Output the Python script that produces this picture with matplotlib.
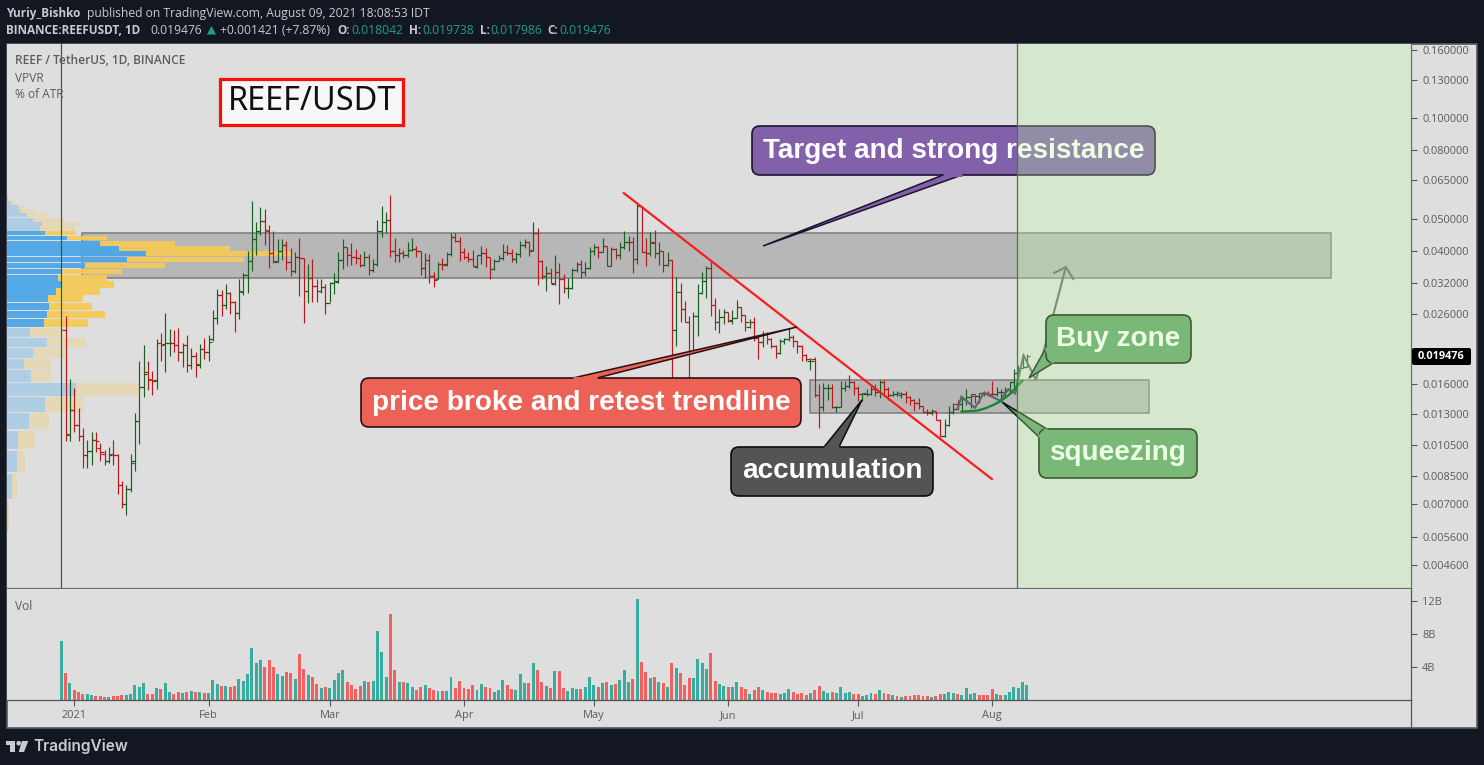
import numpy as np
import matplotlib
matplotlib.use("Agg")
import matplotlib.pyplot as plt
from matplotlib.collections import LineCollection
from matplotlib.patches import FancyBboxPatch, Polygon, Rectangle, Circle
from matplotlib.transforms import Affine2D, IdentityTransform, blended_transform_factory

# ---------- data (prices in thousandths of USDT, one row = ten days) ----------
first_day = -2
highs = [
 25.5,16.6,15.6,13.6,11.8,10.9,11.5,11.5,10.7,10.2,
 10.4,10.9,9.9,8.2,8.0,9.9,13.1,18.7,20.9,18.7,
 17.5,21.8,22.8,26.1,23.4,23.2,23.6,21.3,22.4,20.5,
 19.9,21.1,22.0,22.4,26.7,30.9,30.5,31.9,30.1,28.4,
 33.0,34.3,40.0,56.4,48.9,54.0,53.3,47.9,45.9,43.3,
 43.5,42.9,40.7,39.6,43.8,38.0,36.5,37.9,32.9,32.9,
 31.8,32.3,34.4,39.8,43.5,41.0,42.2,40.5,39.1,40.0,
 39.2,37.8,49.5,54.7,52.3,58.8,43.8,40.7,40.4,42.6,
 43.8,41.4,39.9,39.4,39.2,34.6,37.0,38.0,39.8,45.4,
 45.4,44.0,40.7,39.6,40.4,38.9,41.4,40.7,38.5,37.8,
 39.0,42.0,41.7,40.5,39.8,42.9,43.4,43.0,48.8,46.9,
 37.6,36.1,35.5,38.9,36.8,34.2,33.2,35.7,37.1,37.6,
 37.2,41.1,41.9,41.4,43.7,41.3,41.1,40.8,42.7,45.8,
 44.5,44.0,55.5,54.5,43.7,45.6,46.3,42.5,39.9,39.6,
 37.5,33.5,32.0,28.3,25.6,26.3,31.9,34.7,36.0,37.2,
 28.9,26.9,26.8,26.3,26.6,28.6,27.3,25.8,25.0,25.4,
 22.4,23.0,22.9,22.0,21.0,21.8,22.0,23.5,22.4,21.6,
 21.0,19.7,19.2,19.3,16.0,16.1,16.0,16.0,13.8,16.3,
 16.4,17.0,16.4,15.8,15.1,15.5,16.0,16.0,16.5,16.5,
 15.7,15.3,15.3,15.2,15.3,14.7,14.4,14.5,13.8,13.5,
 13.5,13.3,12.6,12.6,13.8,14.1,14.3,14.6,15.5,15.0,
 15.0,15.1,15.3,15.3,16.4,15.7,15.5,15.7,16.2,17.7,
 18.2,19.8,19.738]
lows = [
 10.84,10.8,11.5,10.8,9.0,9.0,9.2,10.0,9.4,9.2,
 9.3,9.2,7.5,6.8,6.5,7.6,8.8,10.6,14.6,15.4,
 14.8,15.5,18.7,17.4,19.4,19.9,18.7,18.0,17.4,17.7,
 16.8,17.9,19.0,18.7,21.5,24.2,25.5,26.8,25.9,22.9,
 25.1,29.6,30.0,34.9,39.0,44.6,41.7,35.7,36.8,37.0,
 37.6,35.2,33.6,34.5,29.3,24.4,27.9,28.1,28.1,29.9,
 25.9,28.1,29.7,32.1,35.3,36.1,36.3,36.7,35.9,36.1,
 33.8,34.6,36.1,44.1,45.3,38.4,37.2,37.2,38.0,38.3,
 40.1,38.3,33.8,33.2,32.0,31.2,32.9,35.0,36.1,38.6,
 42.7,37.3,37.9,37.2,36.1,35.6,36.7,35.9,33.0,35.2,
 37.3,37.6,39.0,37.0,36.9,38.3,40.7,38.7,39.9,31.6,
 33.0,30.4,32.2,31.7,27.7,29.9,28.9,30.8,34.6,33.2,
 33.6,35.3,38.9,38.2,39.6,36.0,36.1,37.9,37.9,40.5,
 40.1,34.4,36.7,39.6,36.1,38.7,38.0,36.4,34.7,36.0,
 16.4,20.8,24.5,24.5,16.8,19.8,22.3,29.7,28.9,25.5,
 23.2,22.7,24.2,24.6,24.2,25.2,24.5,23.1,23.6,21.6,
 19.0,20.6,21.1,20.5,19.1,19.7,21.1,21.6,20.7,19.8,
 18.7,18.7,17.6,14.6,11.8,13.3,14.3,13.6,13.2,13.7,
 15.3,15.6,14.8,14.2,14.2,14.7,14.8,14.7,14.5,15.0,
 14.3,14.7,14.7,14.5,14.1,13.9,13.3,13.5,13.1,12.9,
 12.9,12.5,11.1,11.1,12.0,13.0,13.4,13.3,13.9,13.6,
 14.1,14.1,14.7,14.7,14.8,14.7,14.5,14.7,15.0,15.7,
 17.1,17.9,17.986]
opens = [
 23.3,11.3,13.4,12.1,11.2,9.8,10.1,10.9,10.3,9.9,
 9.4,9.9,9.8,8.0,7.0,7.8,9.4,12.4,15.7,17.4,
 16.5,16.5,21.3,21.1,21.2,21.2,21.0,19.9,21.0,18.2,
 19.4,18.2,20.4,19.9,21.9,25.2,29.6,27.6,30.0,28.1,
 26.1,30.1,33.9,37.4,43.3,46.0,49.3,45.9,39.4,37.0,
 40.0,41.6,37.2,34.9,38.3,38.1,30.3,33.2,31.4,30.4,
 31.3,27.9,32.0,32.4,37.5,41.0,38.8,38.5,38.0,36.4,
 38.5,35.2,36.7,46.0,48.7,49.4,39.9,38.8,39.4,39.0,
 40.2,40.5,39.9,35.7,37.5,33.7,33.0,36.5,36.5,39.1,
 44.2,43.0,39.8,38.5,37.8,35.9,38.8,39.4,38.5,35.4,
 37.3,38.0,39.8,39.5,37.8,39.1,41.8,42.5,40.2,45.4,
 37.3,33.6,34.3,31.9,34.7,33.0,31.0,31.0,35.0,36.5,
 34.7,35.7,39.9,41.1,39.8,41.3,36.2,40.5,38.8,41.1,
 42.7,42.7,37.9,54.5,39.7,39.4,42.4,39.4,39.9,36.4,
 37.5,23.3,30.1,26.9,24.6,20.0,25.6,29.9,32.6,35.6,
 27.6,24.6,25.4,26.2,24.8,25.3,27.2,25.8,23.7,24.6,
 22.0,21.4,22.6,21.9,20.8,19.8,21.6,21.8,22.1,21.5,
 20.8,19.6,18.8,19.0,14.8,13.7,15.6,15.6,13.7,13.7,
 15.6,15.8,16.2,15.6,15.0,15.0,15.0,15.5,15.2,16.2,
 15.5,14.8,15.0,14.8,15.0,14.6,14.3,14.1,13.8,13.2,
 13.2,13.3,12.5,11.2,12.1,13.2,14.0,14.0,14.4,14.6,
 15.0,14.7,15.1,15.1,15.0,14.9,15.2,15.2,15.4,16.2,
 17.3,17.9,18.042]
closes = [
 11.34,13.4,12.1,11.2,9.8,10.1,10.9,10.8,10.0,9.4,
 9.8,9.8,8.0,7.0,7.8,9.3,12.4,15.7,17.2,16.6,
 16.4,21.3,21.0,21.2,21.2,21.0,19.9,21.0,18.2,19.4,
 18.4,20.4,19.9,21.4,25.2,29.6,27.6,30.0,28.1,26.1,
 30.3,33.9,37.4,43.3,46.0,49.3,46.3,39.4,37.4,40.0,
 41.6,37.2,34.9,38.3,38.1,30.3,33.2,31.4,30.4,31.3,
 27.9,32.0,32.6,37.5,41.0,38.8,38.5,38.0,36.4,38.5,
 35.2,36.7,46.0,48.7,49.4,39.9,38.8,39.4,39.0,40.2,
 40.5,39.9,35.7,37.5,33.7,32.8,36.5,36.4,39.1,44.2,
 43.0,39.8,38.5,37.8,36.0,38.8,39.4,38.5,35.4,37.3,
 38.0,39.8,39.5,37.8,39.1,41.8,42.5,39.9,45.4,37.3,
 33.6,34.3,32.1,34.7,33.0,31.0,31.0,35.0,36.5,34.7,
 35.7,39.9,41.1,39.8,41.3,36.2,40.5,38.9,41.1,42.7,
 42.7,37.9,54.5,39.7,39.4,42.7,39.4,39.9,36.4,37.5,
 23.3,30.1,26.9,24.6,20.0,25.6,29.9,32.6,35.6,27.6,
 24.6,25.4,26.2,24.7,25.2,27.2,25.8,24.5,24.6,22.0,
 21.4,22.6,21.9,20.8,19.8,21.6,21.8,22.1,21.5,20.8,
 19.6,19.0,18.8,14.8,13.7,15.6,15.6,13.7,13.7,15.6,
 15.8,16.2,15.6,15.0,15.1,15.0,15.5,15.2,16.2,15.5,
 14.8,15.0,15.1,15.0,14.6,14.3,14.1,13.8,13.2,13.15,
 13.3,12.5,11.2,12.1,13.2,13.5,13.95,14.4,14.6,14.7,
 14.7,15.1,15.1,15.0,14.9,15.2,15.2,15.4,16.2,17.3,
 17.9,18.055,19.476]

vol_first_day = -3
volumes = [
 7.13,3.32,2.09,1.23,.98,.74,.74,.61,.49,.49,
 .37,.37,.49,.49,.61,.61,.74,1.84,1.6,2.09,
 .74,.74,1.48,1.35,2.09,.98,.74,.98,.86,.98,
 1.1,.98,.98,.86,.86,2.46,1.97,1.72,1.72,1.6,
 1.72,2.58,2.34,3.2,6.27,4.43,4.8,4.06,4.8,4.06,
 3.2,2.95,3.44,3.32,2.58,5.53,3.81,3.07,2.83,1.97,
 1.48,1.6,1.48,2.46,3.32,3.69,2.21,1.84,1.35,1.72,
 2.34,2.21,2.34,8.36,5.78,2.83,10.45,3.69,2.21,2.21,
 2.09,1.6,1.23,1.6,1.84,1.48,1.23,1.1,1.1,1.1,
 2.83,1.48,2.34,1.48,1.35,1.84,1.23,1.97,1.6,1.48,
 .98,1.23,2.46,1.84,1.35,1.23,3.2,2.09,2.09,4.43,
 3.69,2.21,1.72,1.48,3.57,3.57,1.48,1.1,1.48,1.35,
 1.35,1.6,2.83,1.84,1.6,2.09,2.21,1.84,1.97,2.46,
 3.69,2.21,2.58,12.3,4.55,3.44,2.7,2.83,2.21,2.09,
 1.6,4.43,3.93,3.32,1.84,2.7,2.7,4.92,4.43,3.81,
 5.66,2.34,1.97,1.72,1.6,1.6,2.21,1.6,1.35,.74,
 1.23,1.6,1.23,.98,.86,.86,.74,.86,1.35,.98,
 .74,.86,.61,.86,1.23,1.72,1.1,.86,.98,.86,
 1.6,.86,.98,.74,.74,.49,.61,.86,.74,1.23,
 .86,.74,.61,.49,.37,.49,.49,.61,.61,.49,
 .49,.37,.49,.74,.74,.98,.86,.74,.61,1.48,
 .74,.86,.61,.61,.61,1.35,.74,.61,.61,.98,
 1.6,1.48,2.21,1.84]
volume_dirs = ("grgrrrggrr" "rgrrrggggg" "rrgrggrrgr" "grgrgggrgr"
               "rggggggrrr" "ggrrgrrgrr" "grggggrrrr" "grggggrrgr"
               "ggrrgrrgrg" "grrrrrggrr" "gggrrgggrg" "rrgrgrrggg"
               "rgggrgrgrg" "ggrgrrgrgr" "grgrrrgggg" "rrggrggrrg"
               "rrgrrrgggr" "rrrgrrggrg" "gggrrgggrg" "rrgrgrrrrr"
               "rgrrgggrgg" "ggrrrrgrgg" "gggg")

# visible-range volume profile, top row first (widths in profile units)
profile_up = [0.5,1,4,11,13,20,26,35,33,38,60,93,112,139,120,78,54,51,55,49,41,42,40,37,23,40,26,17,24,69,38,22,11,10,5,1]
profile_down = [0.5,1,4,6,15,21,31,39,34,31,40,75,111,146,117,80,61,49,52,44,35,43,58,44,33,39,32,27,20,63,39,20,17,8,5,1]
profile_top, profile_step = 59.3, 1.49
value_area = (9, 24)

month_days = [0, 31, 59, 90, 120, 151, 181, 212]
month_labels = ["2021", "Feb", "Mar", "Apr", "May", "Jun", "Jul", "Aug"]
price_ticks = [.16, .13, .10, .08, .065, .05, .04, .032, .026, .016, .013, .0105, .0085, .007, .0056, .0046]
volume_ticks = [4, 8, 12]
last_price = 0.019476

# ---------- layout ----------
W, H = 1484, 765
DARK, PANEL = "#131722", "#dedede"
UP, DOWN = "#1a5e20", "#b8191c"
VUP, VDOWN = "#38ac9f", "#f2615f"
TXT = "#5c5c5c"
SANS = "Open Sans"
PX_PER_DAY, X0 = 4.33, 74.3

fig = plt.figure(figsize=(W/100, H/100), dpi=100, facecolor=DARK)
px = Affine2D().scale(1, -1).translate(0, H)

def ax_rect(x0, y0, x1, y1):
    return [x0/W, 1-y1/H, (x1-x0)/W, (y1-y0)/H]

fig.add_artist(Rectangle((7, 44), 1470, 684, transform=px, facecolor=PANEL,
                         edgecolor="#555862", lw=1.2, zorder=-1))
ax = fig.add_axes(ax_rect(7, 44, 1411, 588), facecolor=PANEL)
vx = fig.add_axes(ax_rect(7, 589, 1411, 700), facecolor=PANEL)
xlim = ((7-X0)/PX_PER_DAY, (1411-X0)/PX_PER_DAY)

# ---------- price panel ----------
ax.set_yscale("log")
ax.set_xlim(xlim)
ax.set_ylim(3.934e-3, 166.26e-3)
ax.set_xticks([])
ax.yaxis.tick_right()
ax.set_yticks(price_ticks, [f"{t:.6f}" for t in price_ticks])
ax.minorticks_off()
ax.tick_params(axis="y", which="major", length=4, width=0.8, color="#555555", labelcolor=TXT,
               labelsize=7.9, pad=4)
for lab in ax.get_yticklabels():
    lab.set_family(SANS)
for s in ("top", "left"):
    ax.spines[s].set_visible(False)
for s in ("right", "bottom"):
    ax.spines[s].set_color("#6b6b6b")
    ax.spines[s].set_linewidth(0.9)

days = np.arange(first_day, first_day + len(highs))
o, h_, l, c = [np.array(a) / 1000 for a in (opens, highs, lows, closes)]
segs, cols = [], []
for d, oo, hh, ll, cc in zip(days, o, h_, l, c):
    col = UP if cc >= oo else DOWN
    segs += [[(d, ll), (d, hh)], [(d-0.8, oo), (d, oo)], [(d, cc), (d+0.8, cc)]]
    cols += [col]*3
ax.add_collection(LineCollection(segs, colors=cols, linewidths=0.85, zorder=3, capstyle="butt"))
ax.axvline(vol_first_day, color="#1c6a23", lw=0.85, zorder=3)

# zones
zone_kw = dict(facecolor="#5f5f62", alpha=0.3, zorder=2)
for x0, x1, y0, y1 in [(1.8, 290.2, 33.2e-3, 45.3e-3), (169.9, 248.2, 13.1e-3, 16.45e-3)]:
    ax.add_patch(Rectangle((x0, y0), x1-x0, y1-y0, **zone_kw))
    ax.add_patch(Rectangle((x0, y0), x1-x0, y1-y0, fill=False, edgecolor="#7c7c7c", lw=1.1, zorder=2))

# volume profile
prof_tr = blended_transform_factory(Affine2D().translate(7, 0), ax.transData)
for i, (u, dn) in enumerate(zip(profile_up, profile_down)):
    top = (profile_top - i*profile_step) / 1000
    bot = (profile_top - (i+1)*profile_step + 0.12) / 1000
    strong = value_area[0] <= i < value_area[1]
    cu, cd = ("#4ea6e8", "#f5ca58") if strong else ("#adcde4", "#e6d8b4")
    ax.add_patch(Rectangle((0, bot), u, top-bot, transform=prof_tr, facecolor=cu, lw=0, zorder=2.5, alpha=.95))
    ax.add_patch(Rectangle((u, bot), dn, top-bot, transform=prof_tr, facecolor=cd, lw=0, zorder=2.5, alpha=.95))

# trend line, sketch of expected path, squeeze curve
ax.plot([126.9, 211.9], [59.6e-3, 8.33e-3], color="#fb1c1c", lw=1.6, zorder=5)
path_days = [204.0, 204.9, 208.0, 210.1, 213.8, 215.7, 217.3, 219.2, 222.1, 229.0]
path_prices = [13.55, 14.67, 13.6, 15.08, 14.28, 15.44, 15.02, 19.55, 16.46, 35.8]
ax.plot(path_days, np.array(path_prices)/1000, color="#62636c", lw=1.5, zorder=5, solid_joinstyle="miter")
ax.plot([226.3, 229.0, 230.7], [34.4e-3, 35.8e-3, 33.0e-3], color="#62636c", lw=1.5, zorder=5)
curve_days = [204.9, 208.4, 210.3, 212.2, 213.8, 215.3, 216.6, 217.6, 219.0]
curve_prices = [13.24, 13.33, 13.53, 13.86, 14.2, 14.67, 15.16, 15.72, 16.38]
ax.plot(curve_days, np.array(curve_prices)/1000, color="#15882c", lw=1.7, zorder=5.5)

# callouts
def callout(x0, y0, x1, y1, tail, fill, edge, text, tcolor="white", size=20.05):
    r = 8
    ax.add_patch(Polygon(tail, closed=True, transform=px, facecolor=fill, edgecolor=edge, lw=1.1, zorder=6))
    ax.add_patch(FancyBboxPatch((x0+r, y0+r), x1-x0-2*r, y1-y0-2*r, boxstyle=f"round,pad={r},rounding_size={r}",
                                transform=px, facecolor=fill, edgecolor=edge, lw=1.2, zorder=6.1))
    ax.plot([tail[1][0], tail[2][0]], [tail[1][1], tail[2][1]], transform=px, color=fill, lw=2.2,
            zorder=6.2, solid_capstyle="butt")
    ax.text((x0+x1)/2, (y0+y1)/2, text, transform=px, color=tcolor, fontsize=size, fontweight="bold",
            family="Liberation Sans", ha="center", va="center", zorder=7)

callout(752, 126, 1155, 175, [(763, 246), (943, 175), (962, 175)], "#8260aa", "#1d1230", "Target and strong resistance")
callout(361, 378, 801, 427, [(797, 327), (573, 378), (597, 378)], "#ec6257", "#2a1210", "price broke and retest trendline")
callout(731, 447, 933, 496, [(862, 400), (824, 447), (839, 447)], "#545454", "#0c0c0c", "accumulation")
callout(1046, 315, 1191, 363, [(1029, 378), (1046, 348), (1053, 363)], "#609d68", "#101810", "Buy zone")
callout(1039, 429, 1197, 478, [(1002, 402), (1039, 437), (1047, 429)], "#609d68", "#101810", "squeezing")

# forecast range drawn on top
ax.axvspan(217.7, xlim[1] + 5, facecolor=(190/255, 1, 161/255), alpha=0.28, lw=0, zorder=8)
ax.axvline(217.7, color="#3f7f3b", lw=0.9, zorder=8.1)

# title box
ax.add_patch(Rectangle((220, 79), 183, 46, transform=px, facecolor="#f7f7f7", edgecolor="#f21208", lw=2.3, zorder=9))
ax.text(312.5, 102, "REEF/USDT", transform=px, fontsize=23.4, family="Noto Sans", fontweight="medium",
        color="#111111", ha="center", va="center", zorder=10)

# last price tag
fig.add_artist(FancyBboxPatch((1414, 350), 55, 13, boxstyle="round,pad=2,rounding_size=2", transform=px,
                              facecolor="black", edgecolor="black", lw=0, zorder=4))
fig.text(1441.5/W, 1-356.3/H, f"{last_price:.6f}", color="white", fontsize=7.9, fontweight="bold",
         family=SANS, ha="center", va="center", zorder=5)

# ---------- volume panel ----------
vdays = np.arange(vol_first_day, vol_first_day + len(volumes))
vx.bar(vdays, volumes, width=0.68, color=[VUP if k == "g" else VDOWN for k in volume_dirs], lw=0)
vx.set_xlim(xlim)
vx.set_ylim(0, 111/8.25)
vx.yaxis.tick_right()
vx.set_yticks(volume_ticks, [f"{t}B" for t in volume_ticks])
vx.set_xticks(month_days, month_labels)
vx.tick_params(axis="both", length=4, width=0.8, color="#555555", labelcolor=TXT, labelsize=7.9)
vx.tick_params(axis="x", pad=3.5)
vx.tick_params(axis="y", pad=4)
for lab in vx.get_yticklabels() + vx.get_xticklabels():
    lab.set_family(SANS)
for s in ("top", "left"):
    vx.spines[s].set_visible(False)
for s in ("right", "bottom"):
    vx.spines[s].set_color("#555555")
    vx.spines[s].set_linewidth(0.9)
fig.add_artist(plt.Line2D([1411, 1411], [700, 728], transform=px, color="#555555", lw=0.9))

# ---------- texts ----------
def ft(x, y, s, color="#c8cad0", size=8.75, weight="normal", family=SANS, **kw):
    fig.text(x/W, 1-y/H, s, color=color, fontsize=size, fontweight=weight, family=family, va="center", **kw)

TEAL = "#1f9d90"
ft(6.5, 13, "Yuriy_Bishko", weight="bold", size=8.5)
ft(87, 13, "published on TradingView.com, August 09, 2021 18:08:53 IDT")
ft(6.5, 30, "BINANCE:REEFUSDT, 1D", weight="bold", size=8.5)
ft(150, 30, "0.019476")
fig.add_artist(Polygon([(207, 34.5), (216, 34.5), (211.5, 26)], transform=px, facecolor=TEAL, lw=0))
ft(220, 30, "+0.001421 (+7.87%)")
for x, lab, val_x, val in [(337, "O:", 351, "0.018042"), (409, "H:", 422, "0.019738"),
                           (480, "L:", 490, "0.017986"), (547, "C:", 559, "0.019476")]:
    ft(x, 30, lab, weight="bold", size=8.5)
    ft(val_x, 30, val, color=TEAL)

ft(15, 61, "REEF / TetherUS, 1D, BINANCE", color=TXT, size=8.6, weight="semibold")
ft(15, 78, "VPVR", color=TXT, size=8.6)
ft(15, 95, "% of ATR", color=TXT, size=8.6)
ft(15, 606, "Vol", color=TXT, size=8.6)

# logo
logo = "#c9cbd1"
fig.add_artist(Polygon([(6, 741), (15.3, 741), (15.3, 752), (10, 752), (10, 744.5), (6, 744.5)], transform=px, facecolor=logo, lw=0))
fig.add_artist(Circle((18.7, 743.2), 2.3, transform=px, facecolor=logo, lw=0))
fig.add_artist(Polygon([(22, 741), (28.3, 741), (24, 752), (18.7, 752)], transform=px, facecolor=logo, lw=0))
ft(33.5, 746.5, "TradingView", color=logo, size=11.1, weight="semibold", family="Inter")

fig.savefig("out.png", dpi=100, facecolor=DARK)
